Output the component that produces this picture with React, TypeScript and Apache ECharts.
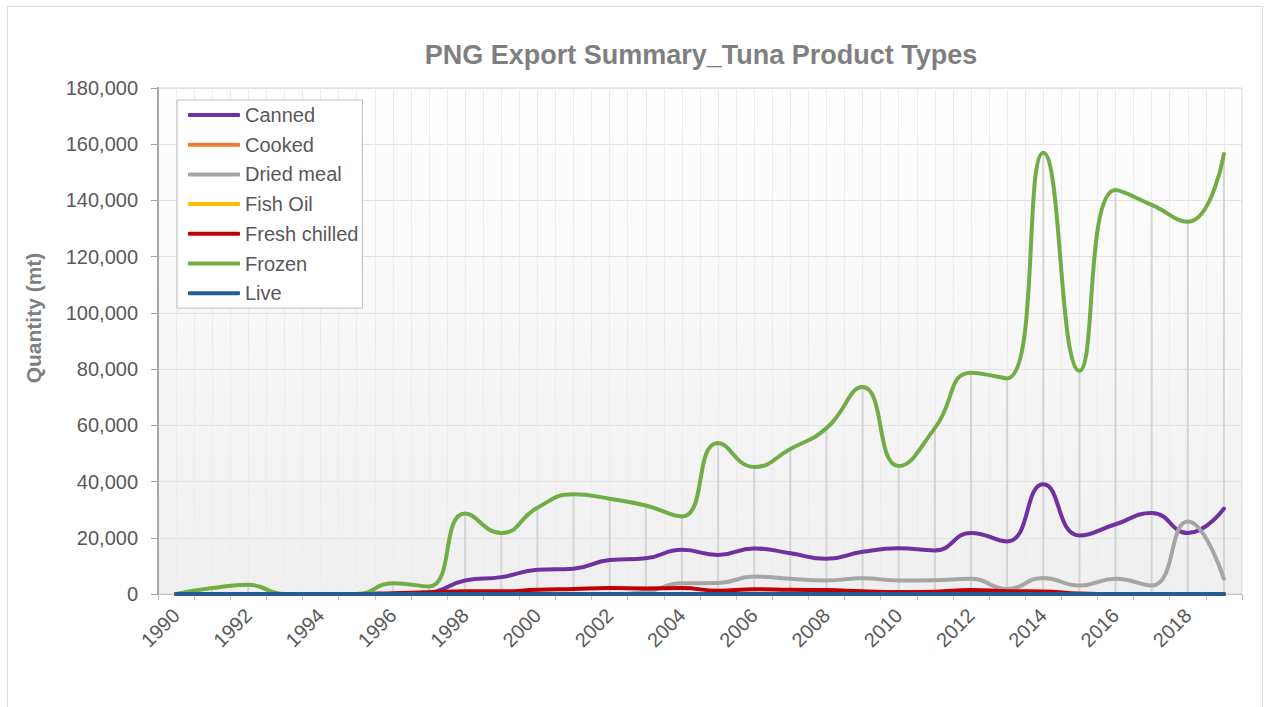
import React, { useEffect, useRef } from "react";
import * as echarts from "echarts";

const years = [
  "1990", "1991", "1992", "1993", "1994", "1995", "1996", "1997", "1998", "1999",
  "2000", "2001", "2002", "2003", "2004", "2005", "2006", "2007", "2008", "2009",
  "2010", "2011", "2012", "2013", "2014", "2015", "2016", "2017", "2018", "2019",
];

const canned = [0, 0, 0, 0, 0, 0, 0, 500, 4800, 6000, 8600, 9000, 12100, 12700, 15700, 13900, 16200, 14500, 12500, 15000, 16300, 15500, 21700, 18700, 39000, 20800, 24800, 28800, 21700, 30400];
const cooked = [0, 0, 0, 0, 0, 0, 0, 0, 0, 0, 0, 0, 0, 0, 0, 0, 0, 0, 0, 0, 0, 0, 0, 0, 0, 0, 0, 0, 0, 0];
const driedMeal = [0, 0, 0, 0, 0, 0, 0, 0, 0, 0, 0, 0, 0, 800, 3800, 3900, 6200, 5400, 4800, 5600, 4800, 4900, 5400, 1800, 5700, 3000, 5400, 3000, 25800, 5400];
const fishOil = [0, 0, 0, 0, 0, 0, 0, 0, 0, 0, 0, 0, 0, 0, 0, 0, 0, 0, 0, 0, 0, 0, 0, 0, 0, 0, 0, 0, 0, 0];
const freshChilled = [0, 0, 0, 0, 0, 0, 300, 600, 950, 950, 1500, 1800, 2100, 2000, 2100, 1200, 1700, 1500, 1400, 1000, 700, 800, 1400, 1000, 900, 200, 0, 0, 0, 0];
const frozen = [0, 2100, 3300, 0, 0, 0, 3800, 2700, 28600, 21700, 30700, 35500, 33900, 31500, 27600, 53700, 45200, 51600, 59000, 73600, 45500, 59000, 78700, 76700, 157000, 79400, 143700, 138400, 132400, 156500];
const live = [0, 0, 0, 0, 0, 0, 0, 0, 0, 0, 0, 0, 0, 0, 0, 0, 0, 0, 0, 0, 0, 0, 0, 0, 0, 0, 0, 0, 0, 0];

const seriesNames = ["Canned", "Cooked", "Dried meal", "Fish Oil", "Fresh chilled", "Frozen", "Live"];
const seriesData = [canned, cooked, driedMeal, fishOil, freshChilled, frozen, live];
const seriesColors = ["#7030a0", "#ed7d31", "#a5a5a5", "#ffc000", "#c00000", "#70ad47", "#255e91"];

const yTicks = { min: 0, max: 180000, interval: 20000 };

const FONT = "'Liberation Sans', Arial, Helvetica, sans-serif";

export default function App() {
  const ref = useRef<HTMLDivElement>(null);

  useEffect(() => {
    if (!ref.current) return;
    const chart = echarts.init(ref.current, undefined, { renderer: "svg" });

    const dropMax = years.map((_, i) => Math.max(...seriesData.map((s) => s[i])));

    const lineSeries = seriesNames.map((name, k) => ({
      name,
      type: "line",
      data: seriesData[k],
      smooth: 0.5,
      symbol: "none",
      showSymbol: false,
      lineStyle: { color: seriesColors[k], width: 4, cap: "round", join: "round" },
      itemStyle: { color: seriesColors[k] },
      z: 3,
      silent: true,
    }));

    chart.setOption({
      animation: false,
      backgroundColor: "#ffffff",
      textStyle: { fontFamily: FONT },
      title: {
        text: "PNG Export Summary_Tuna Product Types",
        left: 701,
        top: 41,
        padding: 0,
        textAlign: "center",
        textStyle: { fontFamily: FONT, fontSize: 27, fontWeight: "bold", color: "#7f7f7f" },
      },
      legend: {
        orient: "vertical",
        left: 177,
        top: 100,
        padding: [5, 4, 5, 11],
        itemGap: 9.7,
        itemWidth: 52,
        itemHeight: 4,
        icon: "roundRect",
        borderColor: "#bfbfbf",
        borderWidth: 1,
        backgroundColor: "#ffffff",
        data: seriesNames,
        textStyle: { fontFamily: FONT, fontSize: 20, color: "#595959", lineHeight: 20 },
      },
      grid: {
        left: 158,
        right: 24,
        top: 88,
        bottom: 113,
        show: true,
        borderColor: "#d9d9d9",
        borderWidth: 1,
        backgroundColor: {
          type: "linear",
          x: 0,
          y: 0,
          x2: 0,
          y2: 1,
          colorStops: [
            { offset: 0, color: "#ffffff" },
            { offset: 1, color: "#efefef" },
          ],
        },
      },
      xAxis: [
        {
          type: "category",
          data: years,
          boundaryGap: true,
          axisLine: { show: true, lineStyle: { color: "#bfbfbf", width: 1 } },
          axisTick: { show: true, length: 6, interval: 0, lineStyle: { color: "#bfbfbf" } },
          axisLabel: { interval: 1, rotate: 45, fontSize: 20, color: "#595959", margin: 18, fontFamily: FONT },
          splitLine: { show: false },
        },
        {
          type: "value",
          position: "top",
          min: 0,
          max: 60,
          interval: 1,
          axisLine: { show: false },
          axisTick: { show: false },
          axisLabel: { show: false },
          splitLine: { show: true, lineStyle: { color: "#ececec", width: 1 } },
        },
      ],
      yAxis: {
        type: "value",
        min: yTicks.min,
        max: yTicks.max,
        interval: yTicks.interval,
        axisLine: { show: true, lineStyle: { color: "#a6a6a6", width: 2 } },
        axisTick: { show: true, length: 7, lineStyle: { color: "#a6a6a6" } },
        axisLabel: {
          fontSize: 20,
          color: "#595959",
          margin: 20,
          fontFamily: FONT,
          formatter: (v: number) => v.toLocaleString("en-US"),
        },
        splitLine: { show: true, lineStyle: { color: "#e2e2e2", width: 1 } },
      },
      graphic: [
        {
          type: "rect",
          shape: { x: 7.5, y: 6.5, width: 1255, height: 720 },
          style: { fill: "none", stroke: "#d9d9d9", lineWidth: 1 },
          silent: true,
          z: -10,
        },
        {
          type: "text",
          x: 33,
          y: 318,
          rotation: Math.PI / 2,
          style: {
            text: "Quantity (mt)",
            align: "center",
            verticalAlign: "middle",
            fontFamily: FONT,
            fontSize: 21,
            fontWeight: "bold",
            fill: "#7f7f7f",
          },
          silent: true,
        },
      ],
      series: [
        {
          name: "drop",
          type: "bar",
          data: dropMax,
          barWidth: 2,
          itemStyle: { color: "#d4d4d4" },
          silent: true,
          z: 1,
        },
        ...lineSeries,
      ],
    });

    return () => chart.dispose();
  }, []);

  return (
    <div
      ref={ref}
      style={{ position: "fixed", left: 0, top: 0, width: 1266, height: 707 }}
    />
  );
}
